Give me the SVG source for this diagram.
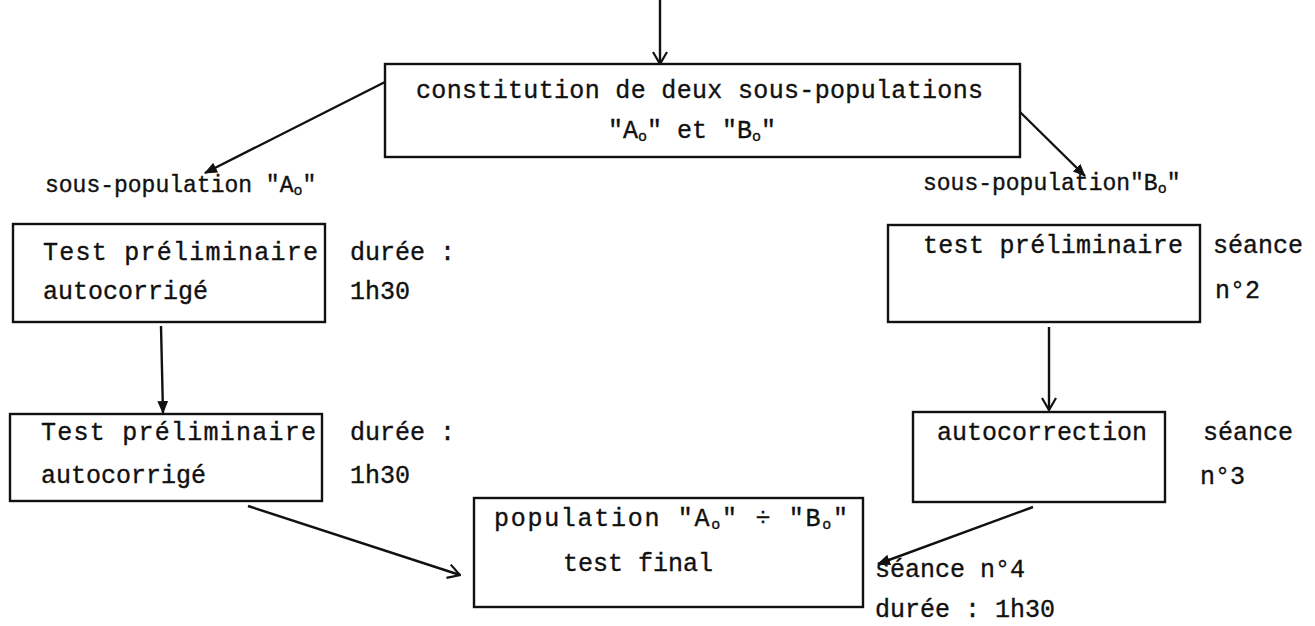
<svg xmlns="http://www.w3.org/2000/svg" width="1315" height="626" viewBox="0 0 1315 626">
<defs>
<style>
.bg{fill:#ffffff}
.box{fill:none;stroke:#111;stroke-width:2.4}
.ln{fill:none;stroke:#111;stroke-width:2.4}
.t{font-family:"Liberation Mono","DejaVu Sans Mono",monospace;font-size:25px;fill:#111;stroke:#111;stroke-width:0.35}
.s{font-size:23px}
.m{text-anchor:middle}
</style>
<marker id="filled" viewBox="0 0 12 10" refX="11" refY="5" markerWidth="13" markerHeight="11" markerUnits="userSpaceOnUse" orient="auto">
<path d="M0,0 L12,5 L0,10 Z" fill="#111"/>
</marker>
<marker id="open" viewBox="0 0 14 16" refX="13" refY="8" markerWidth="14" markerHeight="16" markerUnits="userSpaceOnUse" orient="auto">
<path d="M1,1 L13,8 L1,15" fill="none" stroke="#111" stroke-width="2.2"/>
</marker>
</defs>
<rect class="bg" x="0" y="0" width="1315" height="626"/>

<g id="connectors">
<line class="ln" x1="660" y1="0" x2="660" y2="64" marker-end="url(#open)"/>
<line class="ln" x1="385" y1="82" x2="205" y2="173" marker-end="url(#filled)"/>
<line class="ln" x1="1020" y1="112" x2="1085" y2="176" marker-end="url(#filled)"/>
<line class="ln" x1="161" y1="326" x2="163" y2="413" marker-end="url(#filled)"/>
<line class="ln" x1="1049" y1="327" x2="1049" y2="410" marker-end="url(#open)"/>
<line class="ln" x1="248" y1="506" x2="460" y2="575" marker-end="url(#open)"/>
<line class="ln" x1="1033" y1="507" x2="878" y2="564" marker-end="url(#filled)"/>
</g>

<g id="node-constitution">
<rect class="box" x="385" y="64" width="635" height="93"/>
<text class="t" x="416" y="98" textLength="567" lengthAdjust="spacing">constitution de deux sous-populations</text>
<text class="t m" x="692" y="138">"A<tspan font-size="15" dy="3">o</tspan><tspan dy="-3">" et "B</tspan><tspan font-size="15" dy="3">o</tspan><tspan dy="-3">"</tspan></text>
</g>

<g id="label-sousA">
<text class="t s" x="45" y="192">sous-population "A<tspan font-size="15" dy="3">o</tspan><tspan dy="-3">"</tspan></text>
</g>
<g id="label-sousB">
<text class="t s" x="923" y="190">sous-population"B<tspan font-size="15" dy="3">o</tspan><tspan dy="-3">"</tspan></text>
</g>

<g id="node-testA1">
<rect class="box" x="13" y="224" width="312" height="98"/>
<text class="t" x="43" y="260" textLength="275" lengthAdjust="spacing">Test préliminaire</text>
<text class="t" x="43" y="299">autocorrigé</text>
</g>
<g id="label-dureeA1">
<text class="t" x="350" y="260">durée :</text>
<text class="t" x="350" y="299">1h30</text>
</g>

<g id="node-testA2">
<rect class="box" x="10" y="414" width="312" height="87"/>
<text class="t" x="41" y="440" textLength="275" lengthAdjust="spacing">Test préliminaire</text>
<text class="t" x="41" y="483">autocorrigé</text>
</g>
<g id="label-dureeA2">
<text class="t" x="350" y="440">durée :</text>
<text class="t" x="350" y="483">1h30</text>
</g>

<g id="node-final">
<rect class="box" x="474" y="498" width="389" height="109"/>
<text class="t" x="494" y="526" textLength="354" lengthAdjust="spacing">population "A<tspan font-size="15" dy="3">o</tspan><tspan dy="-3">" ÷ "B</tspan><tspan font-size="15" dy="3">o</tspan><tspan dy="-3">"</tspan></text>
<text class="t m" x="638" y="571">test final</text>
</g>

<g id="node-testB">
<rect class="box" x="888" y="225" width="312" height="97"/>
<text class="t" x="923" y="253" textLength="260" lengthAdjust="spacing">test préliminaire</text>
</g>
<g id="label-seance2">
<text class="t" x="1213" y="253">séance</text>
<text class="t" x="1215" y="298">n°2</text>
</g>

<g id="node-autocorrection">
<rect class="box" x="913" y="412" width="252" height="90"/>
<text class="t" x="937" y="440">autocorrection</text>
</g>
<g id="label-seance3">
<text class="t" x="1203" y="440">séance</text>
<text class="t" x="1200" y="484">n°3</text>
</g>

<g id="label-seance4">
<text class="t" x="875" y="577">séance n°4</text>
<text class="t" x="875" y="617">durée : 1h30</text>
</g>
</svg>
